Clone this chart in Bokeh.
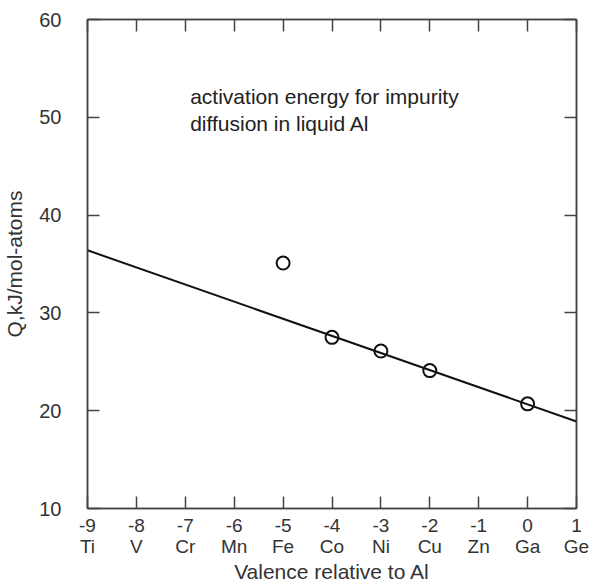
from bokeh.plotting import figure
from bokeh.models import LinearAxis, FixedTicker, Range1d, Label
from bokeh.embed import file_html
from bokeh.resources import INLINE

x_ticks = [-9, -8, -7, -6, -5, -4, -3, -2, -1, 0, 1]
elements = ["Ti", "V", "Cr", "Mn", "Fe", "Co", "Ni", "Cu", "Zn", "Ga", "Ge"]
y_ticks = [10, 20, 30, 40, 50, 60]

pt_x = [-5, -4, -3, -2, 0]
pt_y = [35.1, 27.5, 26.1, 24.1, 20.7]

fit_x = [-9, 1]
fit_y = [36.4, 18.9]

note_lines = ["activation energy for impurity", "diffusion in liquid Al"]
x_title = "Valence relative to Al"
y_title = "Q,kJ/mol-atoms"

FONT = "Liberation Sans"
TXT = "#333333"
AX = "#444444"

p = figure(width=597, height=585, output_backend="svg", toolbar_location=None,
           x_range=Range1d(-9, 1), y_range=Range1d(10, 60),
           min_border_left=87, min_border_right=21, min_border_top=19, min_border_bottom=70)
p.xgrid.visible = False
p.ygrid.visible = False
p.outline_line_color = AX
p.outline_line_width = 1.5

def style(ax):
    ax.axis_line_color = AX
    ax.axis_line_width = 1.5
    ax.major_tick_in = 12
    ax.major_tick_out = 0
    ax.major_tick_line_color = AX
    ax.major_tick_line_width = 1.5
    ax.minor_tick_line_color = None
    ax.major_label_text_font = FONT
    ax.major_label_text_font_size = "19px"
    ax.major_label_text_color = TXT
    ax.axis_label_text_font = FONT
    ax.axis_label_text_font_size = "21px"
    ax.axis_label_text_color = TXT
    ax.axis_label_text_font_style = "normal"

p.xaxis.ticker = FixedTicker(ticks=x_ticks)
p.xaxis.major_label_overrides = {t: f"{t}\n{e}" for t, e in zip(x_ticks, elements)}
p.xaxis.axis_label = x_title
p.xaxis.major_label_standoff = 6
p.xaxis.axis_label_standoff = 0
style(p.xaxis[0])
p.xaxis.major_label_text_line_height = 1.0

p.yaxis.ticker = FixedTicker(ticks=y_ticks)
p.yaxis.axis_label = y_title
p.yaxis.major_label_standoff = 26
p.yaxis.axis_label_standoff = 10
style(p.yaxis[0])
p.yaxis.major_label_text_font_size = "20px"

top = LinearAxis(ticker=FixedTicker(ticks=x_ticks))
style(top)
top.major_label_overrides = {t: "" for t in x_ticks}
top.major_label_standoff = 0
p.add_layout(top, "above")
right = LinearAxis(ticker=FixedTicker(ticks=y_ticks))
style(right)
right.major_label_overrides = {t: "" for t in y_ticks}
right.major_label_standoff = 0
p.add_layout(right, "right")

p.line(fit_x, fit_y, line_color="#111111", line_width=2)
p.scatter(pt_x, pt_y, marker="circle", size=13, fill_color=None,
          line_color="#111111", line_width=2)

note_x = -6.9
note_y = [52.1, 49.4]
for t, yy in zip(note_lines, note_y):
    p.add_layout(Label(x=note_x, y=yy, text=t, text_font=FONT, text_font_size="21px",
                       text_color="#222222", text_baseline="alphabetic"))

open("out.html", "w").write(file_html(p, INLINE))
